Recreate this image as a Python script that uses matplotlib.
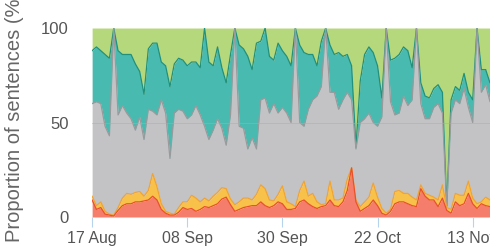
import datetime
import numpy as np
import matplotlib
matplotlib.use("Agg")
import matplotlib.pyplot as plt
import matplotlib.dates as mdates

plt.rcParams["font.family"] = ["Liberation Sans", "DejaVu Sans"]

# daily values, cumulative level (top edge) of each band, in percent
start = datetime.date(2019, 8, 17)
red_top = [9, 4, 5, 1.5, 1, 0.5, 3.5, 6, 7, 7, 8, 8, 8.5, 9, 11, 9, 4, 2, 1, 1,
           2.5, 5, 4, 4.5, 3, 4, 5.5, 5, 6, 7, 9.5, 10.5, 6.5, 3, 4, 5, 5.5, 6, 6, 8,
           6, 5, 6, 8, 7, 4, 4, 4.5, 8, 9, 7, 5.5, 4.5, 5.5, 6, 9, 6, 5.5, 8, 14,
           26, 8, 3, 4.5, 6, 9, 6, 2, 1, 3, 7, 8, 8, 7, 6, 5.5, 15, 11, 9, 9,
           5.5, 10, 3.5, 2, 8, 6, 7, 12.5, 7, 4.5, 7, 6, 5.5, 5]
orange_top = [11, 6, 8, 3, 1.5, 1, 5, 10, 12.5, 12, 13, 13.5, 11, 14, 23, 16, 7, 3, 2, 1.5,
              5, 8, 8, 11.5, 10, 8, 10, 8.5, 11, 13, 15.5, 15, 9.5, 6.5, 8, 10, 10, 9, 12, 17,
              15, 9, 8.5, 12, 16.5, 8, 7, 5.5, 14, 19, 11, 12.5, 8, 6.5, 7, 19, 9, 9, 10, 20,
              26, 9, 5.5, 8, 10.5, 18, 10.5, 4.5, 2, 4, 13.5, 14, 12.5, 12.5, 10.5, 9, 17, 12.5, 11.5, 10.5,
              9, 17, 5, 4, 12.5, 11.5, 11.5, 19, 10, 7, 8, 10.5, 9, 9]
gray_top = [60, 61, 60, 48, 43, 100, 54, 59, 55, 52, 46, 53, 41, 57, 56, 54, 62, 55, 31, 55,
            57, 56, 52, 54, 59, 54, 48, 41, 46, 52, 47, 38, 54, 100, 48, 47, 36, 42, 36, 62,
            63, 55, 60, 55, 58, 55, 50, 100, 50, 48, 57, 62, 64, 69, 100, 66, 66, 57, 62, 66,
            62, 36, 50, 52, 55, 50, 48, 53, 100, 61, 54, 55, 64, 59, 62, 100, 60, 52, 52, 58,
            60, 55, 5.5, 55, 62, 60, 68, 58, 50, 100, 66, 70, 61, 62]
teal_top = [88, 90, 88, 86, 84, 100, 88, 86, 86, 86, 81, 77, 65, 89, 92, 92, 82, 80, 69, 81,
            84, 83, 80, 82, 82, 79, 100, 82, 80, 90, 79, 71, 86, 100, 91, 89, 85, 78, 92, 93,
            100, 85, 83, 92, 88, 85, 80, 100, 91, 87, 86, 86, 80, 93, 100, 91, 86, 87, 85, 86,
            80, 37, 72, 86, 90, 87, 80, 63, 100, 83, 84, 86, 90, 88, 79, 100, 71, 64, 63, 68,
            70, 66, 6, 62, 69, 67, 76, 66, 62, 100, 78, 78, 71, 75]
green_top = [100] * len(teal_top)

dates = [start + datetime.timedelta(days=i) for i in range(len(red_top))]
tick_dates = [datetime.date(2019, 8, 17), datetime.date(2019, 9, 8), datetime.date(2019, 9, 30),
              datetime.date(2019, 10, 22), datetime.date(2019, 11, 13)]

levels = [np.zeros(len(red_top)), red_top, orange_top, gray_top, teal_top, green_top]
fills = ["#f47d6c", "#f8c24a", "#c3c3c6", "#48bab0", "#b6d87c"]
edges = ["#e8502e", "#f0a332", "#999a9c", "#22907a"]

fig = plt.figure(figsize=(4.9, 2.48), dpi=100)
ax = fig.add_axes([0.188, 0.125, 0.812, 0.762])

for k in range(5):
    ax.fill_between(dates, levels[k], levels[k + 1], color=fills[k], lw=0, zorder=1)
# teal edge first so the gray spikes to 100 show a gray line
for k in [4, 3, 2, 1]:
    ax.plot(dates, levels[k], color=edges[k - 1], lw=0.9, zorder=2)

ax.axhline(50, color="#c9a0a0", lw=0.6, alpha=0.6, zorder=3)

ax.set_ylim(0, 100)
ax.set_xlim(dates[0], dates[0] + datetime.timedelta(days=92.6))
ax.set_yticks([0, 50, 100])
ax.set_xticks(tick_dates)
ax.xaxis.set_major_formatter(mdates.DateFormatter("%d %b"))
for s in ax.spines.values():
    s.set_visible(False)
ax.tick_params(axis="y", length=0, pad=17, labelsize=12, labelcolor="#555555")
ax.tick_params(axis="x", length=7, width=0.8, color="#b8d4ec", pad=3, labelsize=11.5, labelcolor="#555555")
ax.set_ylabel("Proportion of sentences (%)", fontsize=14.5, color="#666666")
ax.yaxis.set_label_coords(-0.17, 0.53)

fig.savefig("out.png", dpi=100)
